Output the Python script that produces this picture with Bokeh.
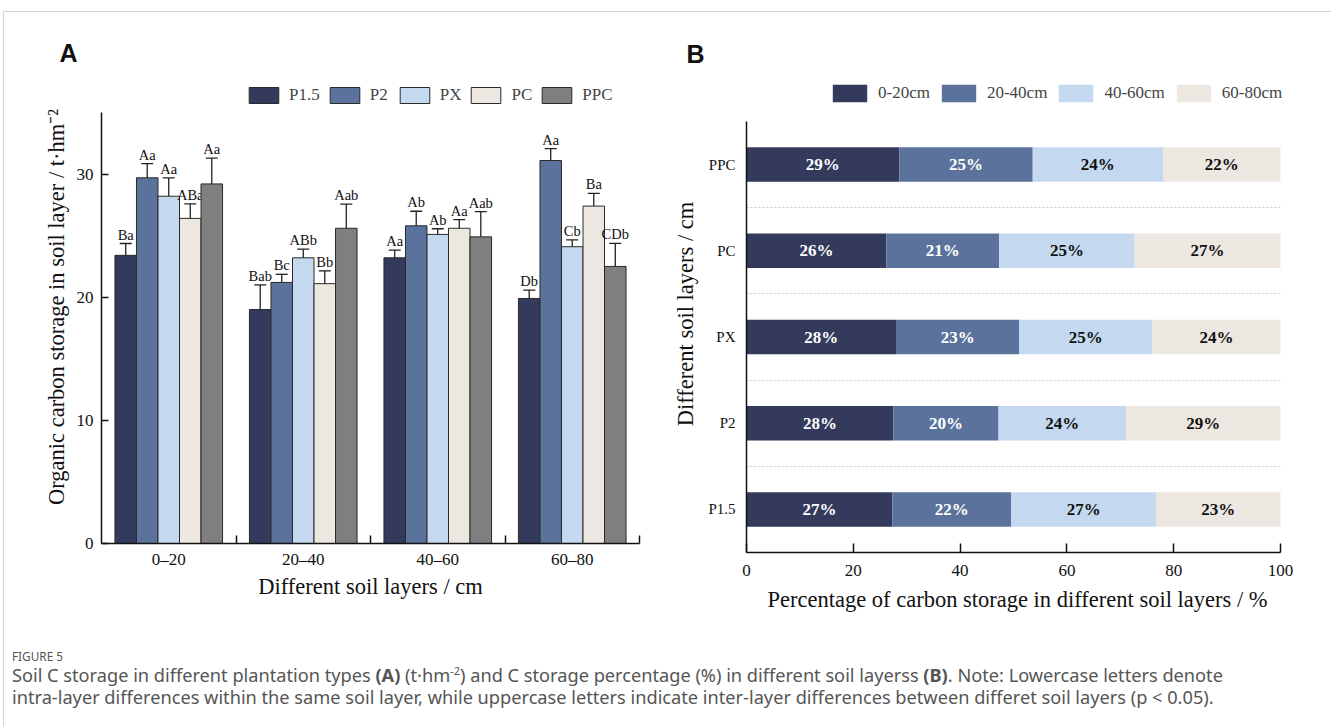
from bokeh.plotting import figure
from bokeh.models import (Range1d, FixedTicker, Legend, LegendItem, Whisker,
                          TeeHead, ColumnDataSource, Div)
from bokeh.layouts import column, row
from bokeh.embed import file_html
from bokeh.resources import INLINE
from bokeh.core.properties import value

# ---------------- data: panel A ----------------
layers = ["0\u201320", "20\u201340", "40\u201360", "60\u201380"]
types = ["P1.5", "P2", "PX", "PC", "PPC"]

p15_mean = [23.4, 19.0, 23.2, 19.9]
p2_mean = [29.7, 21.2, 25.8, 31.1]
px_mean = [28.2, 23.2, 25.1, 24.1]
pc_mean = [26.4, 21.1, 25.6, 27.4]
ppc_mean = [29.2, 25.6, 24.9, 22.5]

p15_err = [0.96, 2.0, 0.63, 0.68]
p2_err = [1.15, 0.66, 1.18, 0.97]
px_err = [1.49, 0.70, 0.46, 0.55]
pc_err = [1.18, 1.04, 0.70, 1.04]
ppc_err = [2.1, 1.96, 2.05, 1.88]

p15_sig = ["Ba", "Bab", "Aa", "Db"]
p2_sig = ["Aa", "Bc", "Ab", "Aa"]
px_sig = ["Aa", "ABb", "Ab", "Cb"]
pc_sig = ["ABa", "Bb", "Aa", "Ba"]
ppc_sig = ["Aa", "Aab", "Aab", "CDb"]

# ---------------- data: panel B ----------------
stands = ["P1.5", "P2", "PX", "PC", "PPC"]  # bottom to top
depths = ["0-20cm", "20-40cm", "40-60cm", "60-80cm"]
pct_0_20 = [27.3, 27.5, 28.0, 26.2, 28.6]
pct_20_40 = [22.3, 19.7, 23.1, 21.1, 25.0]
pct_40_60 = [27.1, 23.9, 24.9, 25.4, 24.4]
pct_60_80 = [23.3, 28.9, 24.0, 27.3, 22.0]

colors = ["#333a5b", "#5b739c", "#c4d9f0", "#ede7e2", "#7f7f7f"]
SERIF = "Liberation Serif"
AXIS_LABEL_SIZE = "22.5px"
TOP = 12          # framing strip above the panels
FIG_H = 618

# ================= Panel A =================
# frame: page x 101..639, page y 70..543 ; data 0..35 occupies 112..543
A_TOP, A_BOT, A_AX_TOP = 70, 543, 112
a_unit = (A_BOT - A_AX_TOP) / 35.0
pa = figure(width=668, height=FIG_H, output_backend="svg", toolbar_location=None,
            x_range=Range1d(0, 4), y_range=Range1d(0, (A_BOT - A_TOP) / a_unit),
            min_border_left=101, min_border_right=29,
            min_border_top=A_TOP - TOP, min_border_bottom=FIG_H - (A_BOT - TOP))
pa.frame_align = False
pa.outline_line_color = None
pa.border_fill_color = None
pa.background_fill_color = None
pa.xgrid.visible = False
pa.ygrid.visible = False
pa.title.text = "A"
pa.title.text_font = "Liberation Sans"
pa.title.text_font_style = "bold"
pa.title.text_font_size = "25px"
pa.title.text_color = "#111111"
pa.title.align = "left"
pa.title.offset = -42
pa.title.standoff = 8

means = [p15_mean, p2_mean, px_mean, pc_mean, ppc_mean]
errs = [p15_err, p2_err, px_err, pc_err, ppc_err]
sigs = [p15_sig, p2_sig, px_sig, pc_sig, ppc_sig]
bw = 0.16
legend_items = []
for k, t in enumerate(types):
    xs = [i + 0.5 + (k - 2) * bw for i in range(len(layers))]
    src = ColumnDataSource(dict(
        x=xs, top=means[k],
        upper=[m + e for m, e in zip(means[k], errs[k])],
        lower=[m - e for m, e in zip(means[k], errs[k])],
        sig=sigs[k]))
    r = pa.vbar(x="x", top="top", width=bw, bottom=0, source=src,
                fill_color=colors[k], line_color="#2a2a2a", line_width=1)
    legend_items.append(LegendItem(label=t, renderers=[r]))
    w = Whisker(source=src, base="x", upper="upper", lower="lower",
                line_color="#222222", line_width=1.3,
                upper_head=TeeHead(size=12, line_color="#222222", line_width=1.3),
                lower_head=TeeHead(size=12, line_color="#222222", line_width=1.3))
    pa.add_layout(w)
    pa.text(x="x", y="upper", text="sig", source=src, text_align="center",
            text_baseline="bottom", y_offset=-1, text_font=value(SERIF),
            text_font_size="14.5px", text_color="#111111")

pa.xaxis.ticker = FixedTicker(ticks=[0.5, 1.5, 2.5, 3.5], minor_ticks=[1, 2, 3, 4])
pa.xaxis.major_label_overrides = {0.5: layers[0], 1.5: layers[1], 2.5: layers[2], 3.5: layers[3]}
pa.xaxis.major_tick_in = 0
pa.xaxis.major_tick_out = 0
pa.xaxis.minor_tick_in = 8
pa.xaxis.minor_tick_out = 0
pa.xaxis.axis_label = "Different soil layers / cm"
pa.yaxis.ticker = FixedTicker(ticks=[0, 10, 20, 30])
pa.yaxis.bounds = (0, 35)
pa.yaxis.minor_tick_line_color = None
pa.yaxis.major_tick_in = 7
pa.yaxis.major_tick_out = 0
pa.yaxis.axis_label = "Organic carbon storage in soil layer / t\u00b7hm\u207b\u00b2"
for ax in (pa.xaxis[0], pa.yaxis[0]):
    ax.axis_line_color = "#111111"
    ax.axis_line_width = 1.5
    ax.major_tick_line_color = "#111111"
    ax.major_tick_line_width = 1.5
    ax.minor_tick_line_width = 1.5
    ax.major_label_text_font = SERIF
    ax.major_label_text_font_size = "17px"
    ax.major_label_text_color = "#111111"
    ax.axis_label_text_font = SERIF
    ax.axis_label_text_font_size = AXIS_LABEL_SIZE
    ax.axis_label_text_font_style = "normal"
    ax.axis_label_text_color = "#111111"
pa.xaxis.minor_tick_line_color = "#111111"
pa.yaxis.major_label_standoff = 8
pa.yaxis.axis_label_standoff = 5
pa.xaxis.major_label_standoff = 6
pa.xaxis.axis_label_standoff = 2

legend_a = Legend(items=legend_items, orientation="horizontal", location=(144, A_BOT - 105),
                  glyph_width=37, glyph_height=20, label_standoff=7, spacing=6,
                  padding=0, margin=0, border_line_color=None, background_fill_alpha=0,
                  label_text_font=SERIF, label_text_font_size="17px", label_height=20)
pa.add_layout(legend_a)

# ================= Panel B =================
# frame: page x 746..1288 (0..100 on 746..1280), page y 75..552 ; -0.5..4.5 on 121..552
B_TOP, B_BOT, B_AX_TOP = 75, 552, 121
B_LEFT, B_AX_RIGHT, B_RIGHT = 746, 1280, 1288
b_unit = (B_BOT - B_AX_TOP) / 5.0
x_unit = (B_AX_RIGHT - B_LEFT) / 100.0
pb = figure(width=663, height=FIG_H, output_backend="svg", toolbar_location=None,
            x_range=Range1d(0, (B_RIGHT - B_LEFT) / x_unit),
            y_range=Range1d(-0.5, -0.5 + (B_BOT - B_TOP) / b_unit),
            min_border_left=B_LEFT - 668, min_border_right=1331 - B_RIGHT,
            min_border_top=B_TOP - TOP, min_border_bottom=FIG_H - (B_BOT - TOP))
pb.frame_align = False
pb.outline_line_color = None
pb.border_fill_color = None
pb.background_fill_color = None
pb.xgrid.visible = False
pb.ygrid.ticker = FixedTicker(ticks=[0.5, 1.5, 2.5, 3.5])
pb.ygrid.grid_line_color = "#c8c8c8"
pb.ygrid.grid_line_dash = "2 2"
pb.ygrid.grid_line_width = 1
if "cross_bounds" in pb.ygrid[0].properties():
    pb.ygrid.cross_bounds = (0, 100)
pb.title.text = "B"
pb.title.text_font = "Liberation Sans"
pb.title.text_font_style = "bold"
pb.title.text_font_size = "25px"
pb.title.text_color = "#111111"
pb.title.align = "left"
pb.title.offset = -60
pb.title.standoff = 15

pcts = [pct_0_20, pct_20_40, pct_40_60, pct_60_80]
ypos = list(range(len(stands)))
left = [0.0] * len(stands)
legend_items_b = []
for j, d in enumerate(depths):
    right = [l + v for l, v in zip(left, pcts[j])]
    src = ColumnDataSource(dict(
        y=ypos, left=left, right=right,
        mid=[(l + r) / 2 for l, r in zip(left, right)],
        lab=["%d%%" % round(v) for v in pcts[j]]))
    r = pb.hbar(y="y", left="left", right="right", height=0.4, source=src,
                fill_color=colors[j], line_color=None)
    legend_items_b.append(LegendItem(label=d, renderers=[r]))
    pb.text(x="mid", y="y", text="lab", source=src, text_align="center",
            text_baseline="middle", text_font=value(SERIF), text_font_style="bold",
            text_font_size="17px", text_color="#ffffff" if j < 2 else "#111111")
    left = right

pb.xaxis.ticker = FixedTicker(ticks=[0, 20, 40, 60, 80, 100])
pb.xaxis.bounds = (0, 100)
pb.xaxis.minor_tick_line_color = None
pb.xaxis.major_tick_in = 9
pb.xaxis.major_tick_out = 0
pb.xaxis.axis_label = "Percentage of carbon storage in different soil layers / %"
pb.yaxis.ticker = FixedTicker(ticks=ypos)
pb.yaxis.bounds = (-0.5, 4.5)
pb.yaxis.major_label_overrides = {i: s for i, s in enumerate(stands)}
pb.yaxis.major_tick_line_color = None
pb.yaxis.minor_tick_line_color = None
pb.yaxis.axis_label = "Different soil layers / cm"
for ax in (pb.xaxis[0], pb.yaxis[0]):
    ax.axis_line_color = "#111111"
    ax.axis_line_width = 1.5
    ax.major_label_text_font = SERIF
    ax.major_label_text_color = "#111111"
    ax.axis_label_text_font = SERIF
    ax.axis_label_text_font_size = AXIS_LABEL_SIZE
    ax.axis_label_text_font_style = "normal"
    ax.axis_label_text_color = "#111111"
pb.xaxis.major_tick_line_color = "#111111"
pb.xaxis.major_tick_line_width = 1.5
pb.xaxis.major_label_text_font_size = "17px"
pb.yaxis.major_label_text_font_size = "15px"
pb.xaxis.major_label_standoff = 12
pb.xaxis.axis_label_standoff = 8
pb.yaxis.major_label_standoff = 5
pb.yaxis.axis_label_standoff = 7

legend_b = Legend(items=legend_items_b, orientation="horizontal", location=(828 - B_LEFT, B_BOT - 104),
                  glyph_width=43, glyph_height=22, label_standoff=7, spacing=7,
                  padding=0, margin=0, border_line_color=None, background_fill_alpha=0,
                  label_text_font=SERIF, label_text_font_size="17px", label_height=22)
pb.add_layout(legend_b)

frame_html = (
    '<div style="position:absolute;left:3px;top:11px;width:1328px;height:1px;'
    'background:#d4d4d4;"></div>'
    '<div style="position:absolute;left:3px;top:11px;width:1px;height:715px;'
    'background:#d4d4d4;"></div>'
)
frame_strip = Div(text=frame_html, width=1331, height=TOP, margin=(0, 0, 0, 0))

caption_html = (
    '<div style="font-family:\'Noto Sans\',sans-serif;color:#555555;padding:18px 0 0 12px;">'
    '<div style="font-size:11.8px;line-height:16px;">FIGURE 5</div>'
    '<div style="font-size:18.2px;line-height:22px;white-space:nowrap;">Soil C storage in different plantation types '
    '<b>(A)</b> (t\u00b7hm<sup style="font-size:11px;line-height:0;">-2</sup>) and C storage percentage (%) in different soil layerss '
    '<b>(B)</b>. Note: Lowercase letters denote<br>intra-layer differences within the same soil '
    'layer, while uppercase letters indicate inter-layer differences between differet soil '
    'layers (p &lt; 0.05).</div></div>'
)
caption = Div(text=caption_html, width=1331, height=96, margin=(0, 0, 0, 0))

layout = column(frame_strip, row(pa, pb, spacing=0), caption, spacing=0)
open("out.html", "w").write(file_html(layout, INLINE))
